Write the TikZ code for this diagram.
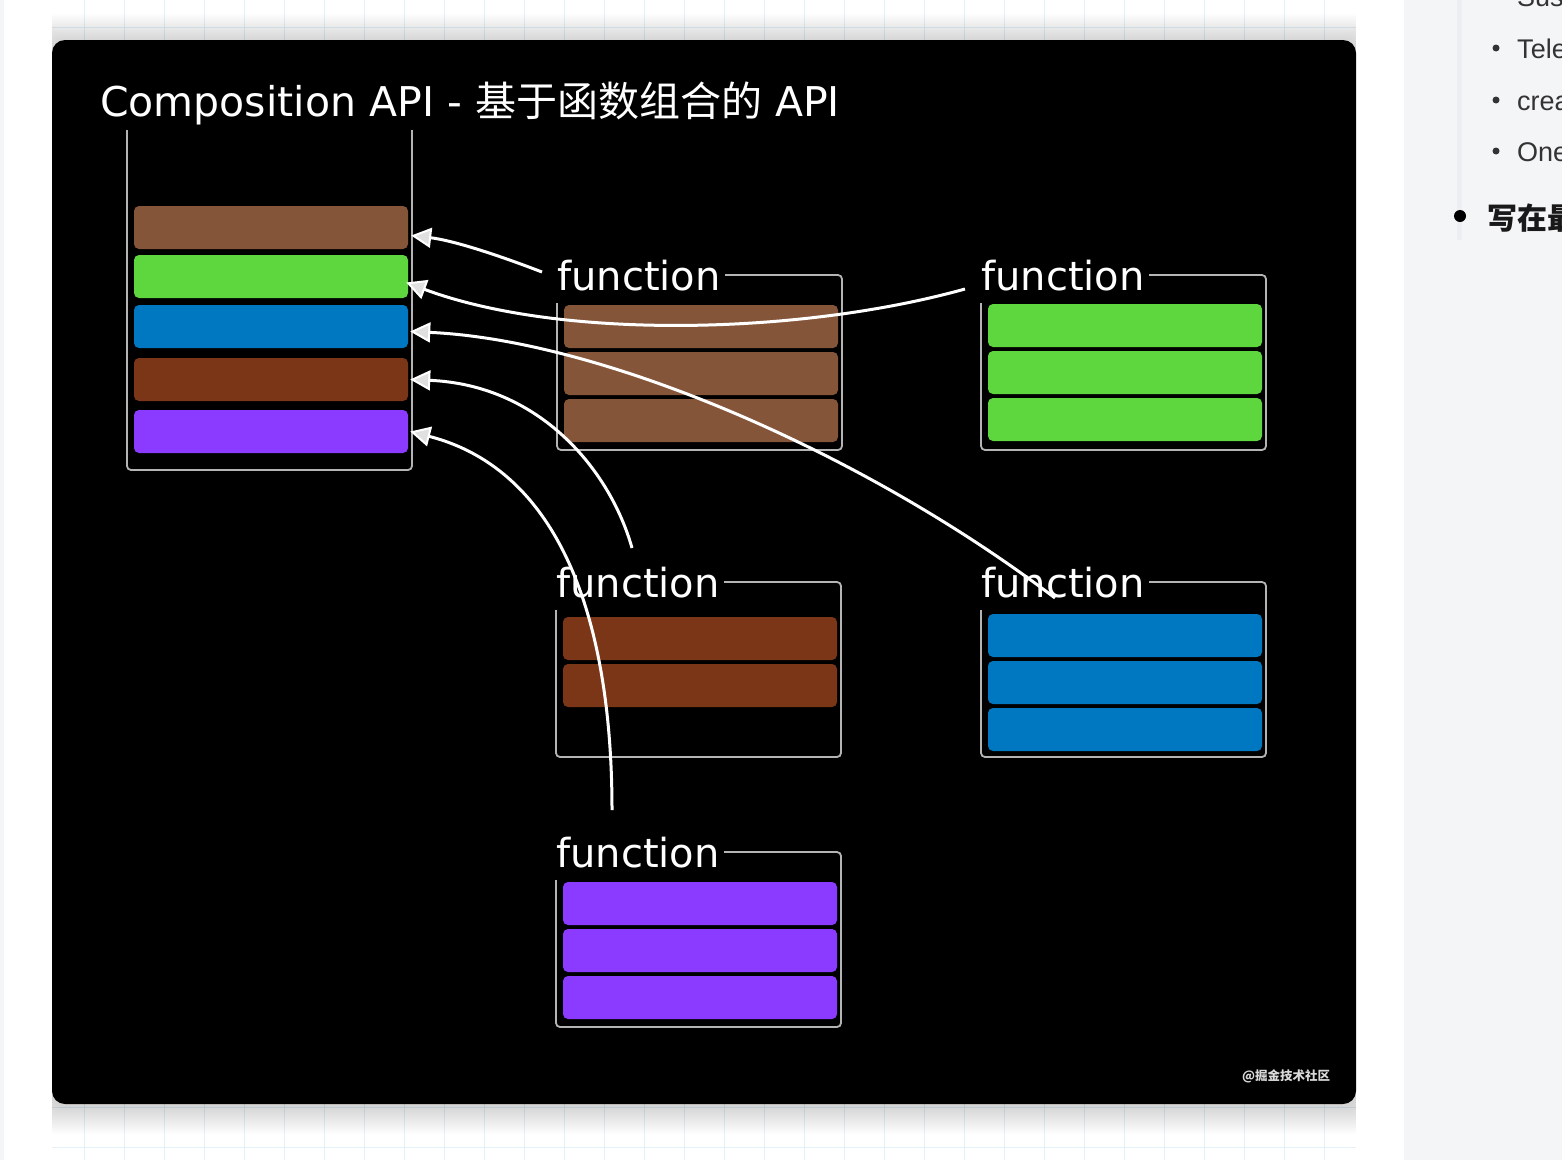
\documentclass[tikz,border=0pt]{standalone}
\usepackage{fontspec}
\setmainfont{DejaVu Sans}
\newfontfamily\cjkfont{Noto Sans CJK SC}
\newfontfamily\sidefont{Liberation Sans}
\usetikzlibrary{arrows.meta}
\definecolor{barbrown}{HTML}{85553A}
\definecolor{bargreen}{HTML}{5ED63E}
\definecolor{barblue}{HTML}{0077C1}
\definecolor{bardark}{HTML}{7B3618}
\definecolor{barpurple}{HTML}{8A3BFF}
\definecolor{framegray}{HTML}{B4B4B4}
\definecolor{gridblue}{HTML}{E4F1FB}
\definecolor{sidegray}{HTML}{F4F5F6}
\definecolor{sidestrip}{HTML}{ECEEF1}
\definecolor{sidetext}{HTML}{333333}
\begin{document}
\begin{tikzpicture}[x=1pt,y=-1pt,
  bar/.style={rectangle,rounded corners=5pt,inner sep=0pt,minimum width=274pt,minimum height=43pt},
  frame/.style={draw=framegray,line width=1.8pt,rounded corners=4pt},
  flabel/.style={anchor=base west,inner sep=0pt,text=white,font=\fontsize{40}{48}\selectfont},
  arr/.style={white,line width=3pt,-{Triangle[length=20pt,width=20pt,line width=2pt,fill=black!12!white]}},
  side/.style={anchor=base west,inner sep=0pt,text=sidetext,font=\sidefont\fontsize{27}{32}\selectfont}]
  \useasboundingbox (0,0) rectangle (1562,1160);
  \fill[white] (0,0) rectangle (1562,1160);
  \fill[sidegray] (0,0) rectangle (4,1160);
  \foreach \gx in {84,124,...,1356} \draw[gridblue,line width=1pt] (\gx,0) -- (\gx,1160);
  \foreach \gy in {27,67,...,1160} \draw[gridblue,line width=1pt] (52,\gy) -- (1356,\gy);
  \begin{scope}
    \clip (52,0) rectangle (1356,1160);
    \foreach \s in {1,...,14}
      \fill[black,opacity=0.012,rounded corners=14pt] (52-2*\s,42-2*\s) rectangle (1356+2*\s,1106+2*\s);
  \end{scope}
  \fill[black,rounded corners=13pt] (52,40) rectangle (1356,1104);

  \node[flabel,font=\fontsize{41}{48}\selectfont] (title) at (100,116) {Composition API - {\cjkfont 基于函数组合的} API};

  \draw[frame] (127,130) -- (127,470) -- (412,470) -- (412,130);
  \foreach \nm/\yy/\col in {l1/227.5/barbrown,l2/276.5/bargreen,l3/326.5/barblue,l4/379.5/bardark,l5/431.5/barpurple}
    \node[bar,fill=\col] (\nm) at (271,\yy) {};

  \foreach \nm/\x/\y/\col/\n/\off in {fa/557/275/barbrown/3/30,fb/981/275/bargreen/3/29,fc/556/582/bardark/2/35,fd/981/582/barblue/3/32,fe/556/852/barpurple/3/30}{
    \node[flabel] (\nm-lab) at (\x,\y+15) {function};
    \draw[frame] (\x+168,\y) -- (\x+285,\y) -- (\x+285,\y+175) -- (\x,\y+175) -- (\x,\y+28);
    \foreach \i in {1,...,\n}
      \node[bar,fill=\col] (\nm-\i) at (\x+144,\y+\off+21.5+47*\i-47) {};
  }

  \coordinate (s1) at (542,272);
  \coordinate (s2) at (965,289);
  \coordinate (s3) at (1055,598);
  \coordinate (s4) at (632,548);
  \coordinate (s5) at (612,810);
  \draw[arr] (s1) .. controls (490,252) and (450,240) .. ([xshift=3pt,yshift=-8pt]l1.east);
  \draw[arr] (s2) .. controls (800,335) and (560,340) .. ([xshift=-2pt,yshift=-6pt]l2.east);
  \draw[arr] (s3) .. controls (860,450) and (600,340) .. ([xshift=2pt,yshift=-5pt]l3.east);
  \draw[arr] (s4) .. controls (610,470) and (540,385) .. ([xshift=2pt]l4.east);
  \draw[arr] (s5) .. controls (612,620) and (560,470) .. ([xshift=2pt]l5.east);

  \node[inner sep=0pt,text=white!85!black,font=\cjkfont\bfseries\fontsize{12.5}{14}\selectfont] (wm) at (1286,1076) {@掘金技术社区};

  \fill[sidegray] (1404,0) rectangle (1562,1160);
  \fill[sidestrip] (1457,0) rectangle (1462,240);
  \node[side] (sus) at (1517,6) {Sus};
  \foreach \nm/\yy/\txt in {tele/58/Tele,crea/110/crea,one/161/One}{
    \fill[sidetext] (1496,\yy-10) circle (3.5pt);
    \node[side] (\nm) at (1517,\yy) {\txt};
  }
  \fill[black] (1460,216) circle (6pt);
  \node[anchor=base west,inner sep=0pt,text=black!90,font=\cjkfont\bfseries\fontsize{30}{34}\selectfont] (last) at (1487,229) {写在最};
\end{tikzpicture}
\end{document}
